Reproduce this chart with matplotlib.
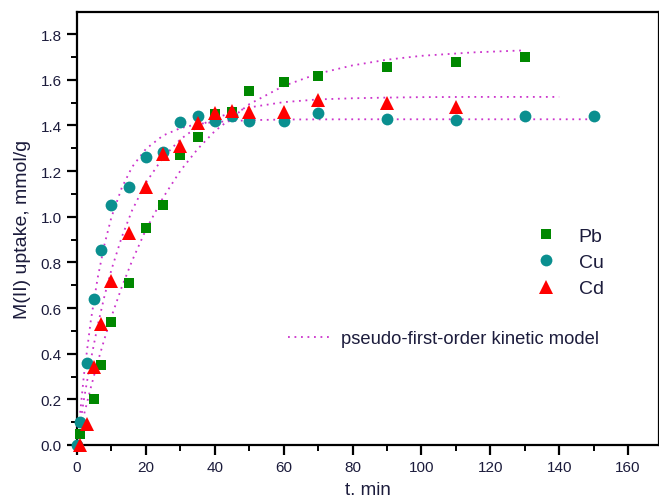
import numpy as np
import matplotlib
matplotlib.use("Agg")
import matplotlib.pyplot as plt
from matplotlib.ticker import MultipleLocator
from matplotlib.lines import Line2D

plt.rcParams['font.family'] = ['Liberation Sans', 'DejaVu Sans']

# ---- data ----
t_pb = [1, 5, 7, 10, 15, 20, 25, 30, 35, 40, 45, 50, 60, 70, 90, 110, 130]
q_pb = [0.05, 0.20, 0.35, 0.54, 0.71, 0.95, 1.05, 1.27, 1.35, 1.45, 1.46, 1.55, 1.59, 1.615, 1.655, 1.68, 1.70]

t_cu = [0, 1, 3, 5, 7, 10, 15, 20, 25, 30, 35, 40, 45, 50, 60, 70, 90, 110, 130, 150]
q_cu = [0.0, 0.10, 0.36, 0.64, 0.855, 1.05, 1.13, 1.26, 1.285, 1.415, 1.44, 1.42, 1.44, 1.42, 1.42, 1.455, 1.43, 1.425, 1.44, 1.44]

t_cd = [1, 3, 5, 7, 10, 15, 20, 25, 30, 35, 40, 45, 50, 60, 70, 90, 110]
q_cd = [0.0, 0.09, 0.34, 0.53, 0.72, 0.93, 1.13, 1.275, 1.31, 1.41, 1.455, 1.465, 1.46, 1.46, 1.51, 1.50, 1.48]

# model curves
tm_pb = [0, 2, 4, 6, 8, 10, 13, 16, 20, 25, 30, 35, 40, 50, 60, 70, 80, 90, 100, 115, 130]
qm_pb = [0, 0.131, 0.251, 0.363, 0.466, 0.562, 0.692, 0.807, 0.943, 1.084, 1.201, 1.296, 1.375,
         1.493, 1.573, 1.627, 1.663, 1.688, 1.705, 1.720, 1.729]

tm_cu = [0, 2, 4, 6, 8, 10, 13, 16, 20, 25, 30, 35, 40, 50, 60, 80, 100, 120, 150]
qm_cu = [0, 0.305, 0.544, 0.732, 0.880, 0.998, 1.127, 1.218, 1.297, 1.356, 1.388, 1.406, 1.415,
         1.423, 1.426, 1.427, 1.427, 1.427, 1.427]

tm_cd = [0, 2, 4, 6, 8, 10, 13, 16, 20, 25, 30, 35, 40, 50, 60, 70, 80, 90, 100, 115, 140]
qm_cd = [0, 0.199, 0.372, 0.523, 0.654, 0.768, 0.911, 1.028, 1.149, 1.260, 1.339, 1.394, 1.432,
         1.479, 1.502, 1.514, 1.519, 1.522, 1.524, 1.525, 1.525]

x_ticks = [0, 20, 40, 60, 80, 100, 120, 140, 160]
y_ticks = [0.0, 0.2, 0.4, 0.6, 0.8, 1.0, 1.2, 1.4, 1.6, 1.8]

# ---- figure ----
W, H = 659, 502
fig = plt.figure(figsize=(W / 100, H / 100), dpi=100)
ax = fig.add_axes([77 / W, (H - 446) / H, (659 - 77) / W, (446 - 13) / H])

line_col = '#cc33cc'
lw = 1.3
dots = (0, (1, 2.6))
for tm, qm in [(tm_pb, qm_pb), (tm_cu, qm_cu), (tm_cd, qm_cd)]:
    ax.plot(tm, qm, linestyle=dots, color=line_col, lw=lw, zorder=3)

ax.plot(t_pb, q_pb, 's', color='#008800', markersize=7.5, markeredgewidth=0, zorder=4, clip_on=False)
ax.plot(t_cu, q_cu, 'o', color='#0a8f8f', markersize=8.5, markeredgewidth=0, zorder=4, clip_on=False)
ax.plot(t_cd, q_cd, '^', color='#ff0000', markersize=9.5, markeredgewidth=0, zorder=5, clip_on=False)

ax.set_xlim(0, 169)
ax.set_ylim(0, 1.897)
ax.set_xticks(x_ticks)
ax.set_yticks(y_ticks)
ax.set_yticklabels([f"{v:.1f}" for v in y_ticks])
ax.xaxis.set_minor_locator(MultipleLocator(10))
ax.yaxis.set_minor_locator(MultipleLocator(0.1))

lab_col = '#1c1c3c'
ax.tick_params(which='major', direction='out', length=7, width=1.6, labelsize=11, colors='black',
               labelcolor=lab_col, pad=4)
ax.tick_params(which='minor', direction='out', length=4.5, width=1.4, colors='black')
for s in ax.spines.values():
    s.set_linewidth(1.6)

ax.set_xlabel('t. min', fontsize=13.5, color=lab_col, labelpad=5)
ax.set_ylabel('M(II) uptake, mmol/g', fontsize=14, color=lab_col, labelpad=7)

h1 = [Line2D([], [], marker='s', color='#008800', ls='none', markersize=7.5, markeredgewidth=0),
      Line2D([], [], marker='o', color='#0a8f8f', ls='none', markersize=8.5, markeredgewidth=0),
      Line2D([], [], marker='^', color='#ff0000', ls='none', markersize=9.5, markeredgewidth=0)]
leg1 = fig.legend(h1, ['Pb', 'Cu', 'Cd'], loc='upper left', bbox_to_anchor=(539 / W, 1 - 228 / H),
                  frameon=False, fontsize=14, handlelength=0.7, handletextpad=1.35,
                  labelspacing=0.45, borderpad=0, borderaxespad=0)
for tx in leg1.get_texts():
    tx.set_color(lab_col)

h2 = [Line2D([], [], linestyle=dots, color=line_col, lw=lw)]
leg2 = fig.legend(h2, ['pseudo-first-order kinetic model'], loc='upper left',
                  bbox_to_anchor=(288 / W, 1 - 331 / H), frameon=False, fontsize=13.2,
                  handlelength=2.4, handletextpad=0.5, borderpad=0, borderaxespad=0)
for tx in leg2.get_texts():
    tx.set_color(lab_col)

fig.savefig('out.png', dpi=100)
